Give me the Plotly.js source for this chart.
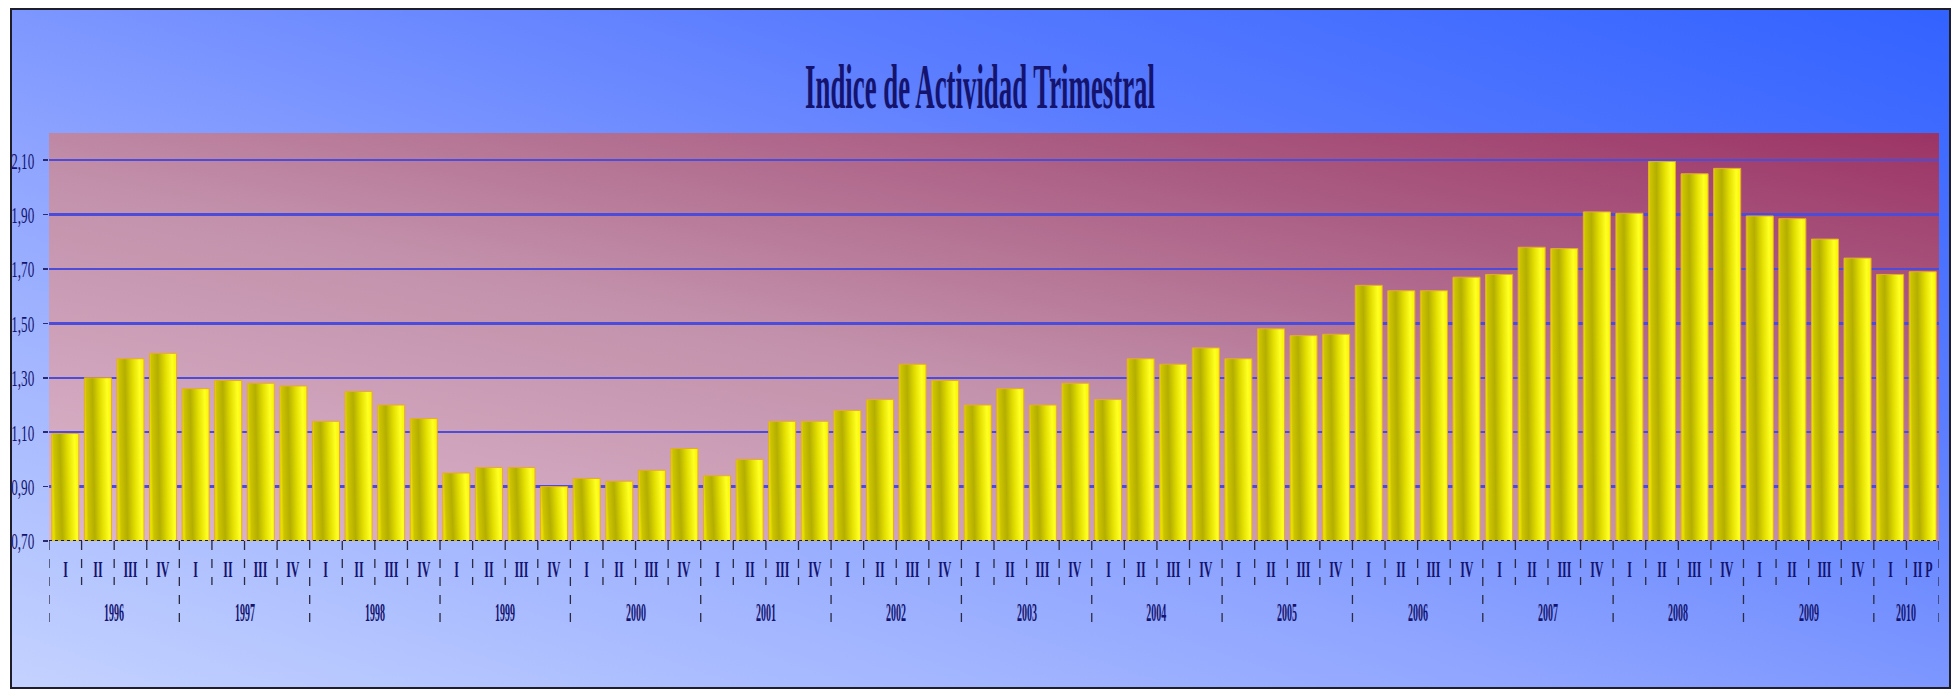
<!DOCTYPE html>
<html>
<head>
<meta charset="utf-8">
<script src="https://cdn.plot.ly/plotly-3.0.1.min.js"></script>
<style>
  html, body { margin:0; padding:0; background:#ffffff; }
  #wrap { position:relative; width:1957px; height:696px; overflow:hidden; background:#fff; }
  #frame { position:absolute; left:10px; top:8px; width:1937px; height:677px;
           border:2px solid #1e1e2a;
           background: linear-gradient(to top right, #c4d2ff 0%, #8ea4ff 40%, #5a7cff 70%, #3262ff 100%); }
  #chart { position:absolute; left:0; top:0; width:1957px; height:696px; }
</style>
</head>
<body>
<div id="wrap">
  <div id="frame"></div>
  <div id="chart"></div>
</div>
<script>
// ---------- DATA ----------
const yearLabels = ['1996','1997','1998','1999','2000','2001','2002','2003','2004','2005','2006','2007','2008','2009','2010'];

const barYears = [
  '1996','1996','1996','1996','1997','1997','1997','1997','1998','1998','1998','1998',
  '1999','1999','1999','1999','2000','2000','2000','2000','2001','2001','2001','2001',
  '2002','2002','2002','2002','2003','2003','2003','2003','2004','2004','2004','2004',
  '2005','2005','2005','2005','2006','2006','2006','2006','2007','2007','2007','2007',
  '2008','2008','2008','2008','2009','2009','2009','2009','2010','2010'
];

const quarterLabels = [
  'I','II','III','IV','I','II','III','IV','I','II','III','IV',
  'I','II','III','IV','I','II','III','IV','I','II','III','IV',
  'I','II','III','IV','I','II','III','IV','I','II','III','IV',
  'I','II','III','IV','I','II','III','IV','I','II','III','IV',
  'I','II','III','IV','I','II','III','IV','I','II P'
];

const values = [
  1.095, 1.30, 1.37, 1.39,
  1.26, 1.29, 1.28, 1.27,
  1.14, 1.25, 1.20, 1.15,
  0.95, 0.97, 0.97, 0.90,
  0.93, 0.92, 0.96, 1.04,
  0.94, 1.00, 1.14, 1.14,
  1.18, 1.22, 1.35, 1.29,
  1.20, 1.26, 1.20, 1.28,
  1.22, 1.37, 1.35, 1.41,
  1.37, 1.48, 1.455, 1.46,
  1.64, 1.62, 1.62, 1.67,
  1.68, 1.78, 1.775, 1.91,
  1.905, 2.095, 2.05, 2.07,
  1.895, 1.885, 1.81, 1.74,
  1.68, 1.69
];

const yTicks = [0.70, 0.90, 1.10, 1.30, 1.50, 1.70, 1.90, 2.10];
const yFloor = 0.70;
const yTop = 2.20;
const titleText = 'Indice de Actividad Trimestral';

// ---------- BUILD ----------
const idx = values.map((v, i) => i);
const navy = '#14146e';
const serif = '"Liberation Serif", "Times New Roman", serif';

// bars rise from the 0,70 floor of the axis
const trace = {
  type: 'bar',
  x: idx,
  y: values.map(v => v - yFloor),
  width: 0.83,
  marker: { color: '#f0ec00', line: { color: '#e8a830', width: 1 } },
  hoverinfo: 'skip'
};

const annotations = [];
quarterLabels.forEach((q, i) => {
  annotations.push({ x: i, y: -0.071, xref: 'x', yref: 'paper', text: '<b>' + q + '</b>',
    showarrow: false, xanchor: 'center', yanchor: 'middle',
    font: { family: serif, size: 23, color: navy } });
});
yearLabels.forEach(yr => {
  const members = idx.filter(i => barYears[i] === yr);
  const cx = members.reduce((a, b) => a + b, 0) / members.length;
  annotations.push({ x: cx, y: -0.176, xref: 'x', yref: 'paper', text: '<b>' + yr + '</b>',
    showarrow: false, xanchor: 'center', yanchor: 'middle',
    font: { family: serif, size: 25, color: navy } });
});

const shapes = [];
for (let i = 0; i <= values.length; i++) {
  const isYear = (i === 0 || i === values.length || barYears[i] !== barYears[i - 1]);
  shapes.push({ type: 'line', xref: 'x', yref: 'paper', x0: i - 0.5, x1: i - 0.5,
    y0: 0, y1: isYear ? -0.206 : -0.108,
    line: { color: '#2a2a40', width: 1.3, dash: 'dash' } });
}
// dotted baseline at 0,70
shapes.push({ type: 'line', xref: 'paper', yref: 'y', x0: 0, x1: 1, y0: 0, y1: 0,
  line: { color: '#1a1a2a', width: 2, dash: 'dot' } });

const plotBgSvg = '<svg xmlns="http://www.w3.org/2000/svg" width="100" height="100" viewBox="0 0 100 100" preserveAspectRatio="none">' +
  '<defs><linearGradient id="g" x1="0" y1="1" x2="1" y2="0">' +
  '<stop offset="0" stop-color="#dcb6cc"/><stop offset="0.45" stop-color="#c290aa"/>' +
  '<stop offset="0.75" stop-color="#aa5c82"/><stop offset="1" stop-color="#9c3466"/>' +
  '</linearGradient></defs><rect x="0" y="0" width="100" height="100" fill="url(#g)"/></svg>';

const layout = {
  width: 1957, height: 696,
  margin: { l: 49, r: 18, t: 133, b: 155, pad: 0 },
  paper_bgcolor: 'rgba(0,0,0,0)',
  plot_bgcolor: 'rgba(0,0,0,0)',
  showlegend: false,
  title: { text: '<b>' + titleText + '</b>', x: 0.5, xanchor: 'center', y: 0.877, yanchor: 'middle',
    xref: 'container', yref: 'container',
    font: { family: serif, size: 64, color: navy } },
  xaxis: { range: [-0.5, values.length - 0.5], showticklabels: false, showgrid: false,
    zeroline: false, ticks: '', fixedrange: true },
  yaxis: { range: [0, yTop - yFloor],
    tickvals: yTicks.map(t => +(t - yFloor).toFixed(2)),
    ticktext: yTicks.map(t => t.toFixed(2).replace('.', ',')),
    ticks: 'outside', ticklen: 5, tickcolor: '#2a2a70', tickwidth: 1.5,
    showgrid: true, gridcolor: '#4c4cd8', gridwidth: 2.5, zeroline: false,
    showline: false, ticklabelstandoff: 4,
    tickfont: { family: serif, size: 24, color: navy }, fixedrange: true },
  images: [{ source: 'data:image/svg+xml;charset=utf-8,' + encodeURIComponent(plotBgSvg),
    xref: 'paper', yref: 'paper', x: 0, y: 1, sizex: 1, sizey: 1,
    xanchor: 'left', yanchor: 'top', sizing: 'stretch', layer: 'below' }],
  annotations: annotations,
  shapes: shapes
};

const gd = document.getElementById('chart');
Plotly.newPlot(gd, [trace], layout, { staticPlot: true, displayModeBar: false }).then(function () {
  const ns = 'http://www.w3.org/2000/svg';
  const svg = gd.querySelector('svg.main-svg');
  let defs = svg.querySelector('defs');
  if (!defs) { defs = document.createElementNS(ns, 'defs'); svg.insertBefore(defs, svg.firstChild); }
  const lg = document.createElementNS(ns, 'linearGradient');
  lg.setAttribute('id', 'barGrad');
  lg.setAttribute('x1', '0'); lg.setAttribute('y1', '0.1');
  lg.setAttribute('x2', '1'); lg.setAttribute('y2', '0');
  [['0', '#e6de00'], ['0.07', '#ccc400'], ['0.3', '#b4ae00'], ['0.58', '#e2de00'],
   ['0.83', '#ffff22'], ['1', '#f6f200']].forEach(s => {
    const st = document.createElementNS(ns, 'stop');
    st.setAttribute('offset', s[0]); st.setAttribute('stop-color', s[1]);
    lg.appendChild(st);
  });
  defs.appendChild(lg);
  gd.querySelectorAll('.barlayer .point path').forEach(p => { p.style.fill = 'url(#barGrad)'; });

  const wrapRect = gd.getBoundingClientRect();
  function squeeze(el, sx, anchor) {
    const r = el.getBoundingClientRect();
    const ax = (anchor === 'end' ? r.right : r.left + r.width / 2) - wrapRect.left;
    const b = el.getBBox();
    const cx = anchor === 'end' ? b.x + b.width : b.x + b.width / 2;
    const t = el.getAttribute('transform') || '';
    el.setAttribute('transform', t + ' translate(' + cx + ',0) scale(' + sx + ',1) translate(' + (-cx) + ',0)');
    const r2 = el.getBoundingClientRect();
    const ax2 = (anchor === 'end' ? r2.right : r2.left + r2.width / 2) - wrapRect.left;
    const d = ax - ax2;
    if (Math.abs(d) > 0.5) el.setAttribute('transform', 'translate(' + d + ',0) ' + el.getAttribute('transform'));
  }
  function placeCenter(el, targetX) {
    const r = el.getBoundingClientRect();
    const d = targetX - (r.left + r.width / 2 - wrapRect.left);
    el.setAttribute('transform', 'translate(' + d + ',0) ' + (el.getAttribute('transform') || ''));
  }
  const tt = gd.querySelector('.gtitle');
  if (tt) {
    const w = tt.getBoundingClientRect().width;
    squeeze(tt, 350 / w, 'middle');
    placeCenter(tt, 980);
  }
  const yt = Array.from(gd.querySelectorAll('.ytick text'));
  const ref = yt.find(t => t.textContent === '2,10') || yt[0];
  const ys = 23 / ref.getBoundingClientRect().width;
  yt.forEach(t => squeeze(t, ys, 'end'));
  const an = Array.from(gd.querySelectorAll('.annotation-text'));
  const yrRef = an.find(t => t.textContent === '1996');
  const yrScale = yrRef ? 20 / yrRef.getBoundingClientRect().width : 0.42;
  an.forEach(t => {
    const isYear = /\d{4}/.test(t.textContent);
    squeeze(t, isYear ? yrScale : 0.52, 'middle');
  });
});
</script>
</body>
</html>
